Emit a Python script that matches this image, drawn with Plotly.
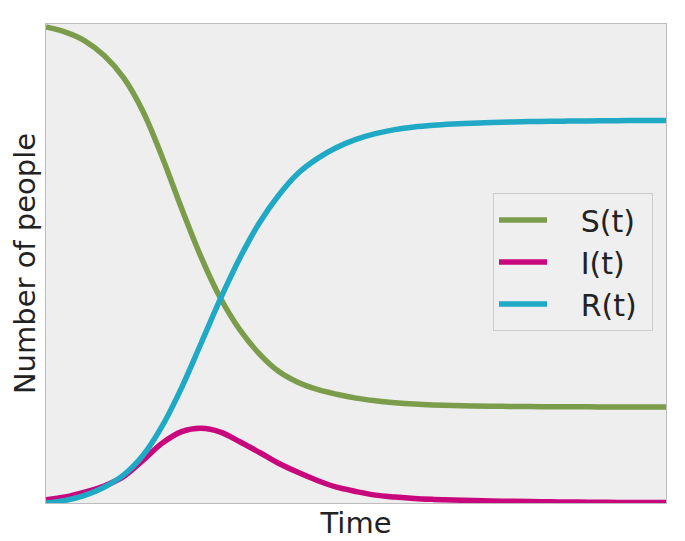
import plotly.graph_objects as go

# Time axis (days) and compartments (population 1000)
time_days = [0, 5, 10, 15, 20, 25, 30, 35, 40, 45, 50, 55, 60, 65, 70, 75, 80,
             85, 90, 95, 100, 105, 110, 115, 120, 125, 130, 135, 140, 145, 150, 155, 160]

susceptible = [993.7, 983, 965, 934, 888, 818, 722, 615, 514, 428, 362, 312, 275, 252,
               237, 227, 219, 213.5, 209.5, 206.5, 204.5, 203.3, 202.5, 202.0, 201.6, 201.3,
               201.0, 200.8, 200.7, 200.6, 200.5, 200.4, 200.3]

infected = [7, 12.5, 22.5, 35.5, 55, 89, 125, 149, 156, 148, 128, 106, 83, 64,
            47, 33, 24, 16.5, 12.5, 9.4, 7.5, 6.2, 5.2, 4.3, 3.6, 3.0,
            2.5, 2.1, 1.7, 1.4, 1.2, 1.0, 0.8]

recovered = [0, 5.5, 16, 33, 58, 99, 161, 241, 333, 426, 511, 584, 642, 688,
             719, 742, 759, 771, 779.5, 785, 788.5, 791, 793, 794.5, 795.5, 796.3,
             796.9, 797.3, 797.7, 798.0, 798.3, 798.5, 798.7]

population = 1000
series_names = ["S(t)", "I(t)", "R(t)"]
series_colors = ["#7b9c4a", "#c8077d", "#1fa9c5"]

fig = go.Figure()
for name, values, color in zip(series_names, [susceptible, infected, recovered], series_colors):
    fig.add_trace(go.Scatter(
        x=time_days, y=values, mode="lines",
        name="\u00a0\u00a0\u00a0" + name + "\u00a0", legendgroup=name,
        line=dict(color=color, width=5.5, shape="spline", smoothing=1.0),
    ))

font_family = "DejaVu Sans"
# the page body adds an 8px offset; margins compensate so the plot sits where the reference has it
fig.update_layout(
    width=685, height=541,
    margin=dict(l=38, r=27, t=16, b=46),
    paper_bgcolor="white",
    plot_bgcolor="#eeeeee",
    font=dict(family=font_family, size=29, color="#222222"),
    showlegend=True,
    legend=dict(
        x=0.721, y=0.647, xanchor="left", yanchor="top",
        bgcolor="#efefef", bordercolor="#cccccc", borderwidth=1,
        font=dict(family=font_family, size=30, color="#222222"),
        traceorder="grouped", tracegroupgap=0,
        itemwidth=48,
    ),
    xaxis=dict(
        range=[0, 160], showgrid=False, zeroline=False,
        showticklabels=False, ticks="",
        showline=True, linecolor="#bdbdbd", linewidth=1, mirror=True,
        title=dict(text="Time", font=dict(size=29, color="#222222"), standoff=9),
    ),
    yaxis=dict(
        range=[0, population], showgrid=False, zeroline=False,
        showticklabels=False, ticks="",
        showline=True, linecolor="#bdbdbd", linewidth=1, mirror=True,
        title=dict(text="Number of people", font=dict(size=29, color="#222222"), standoff=4),
    ),
)

fig.write_html("out.html")
